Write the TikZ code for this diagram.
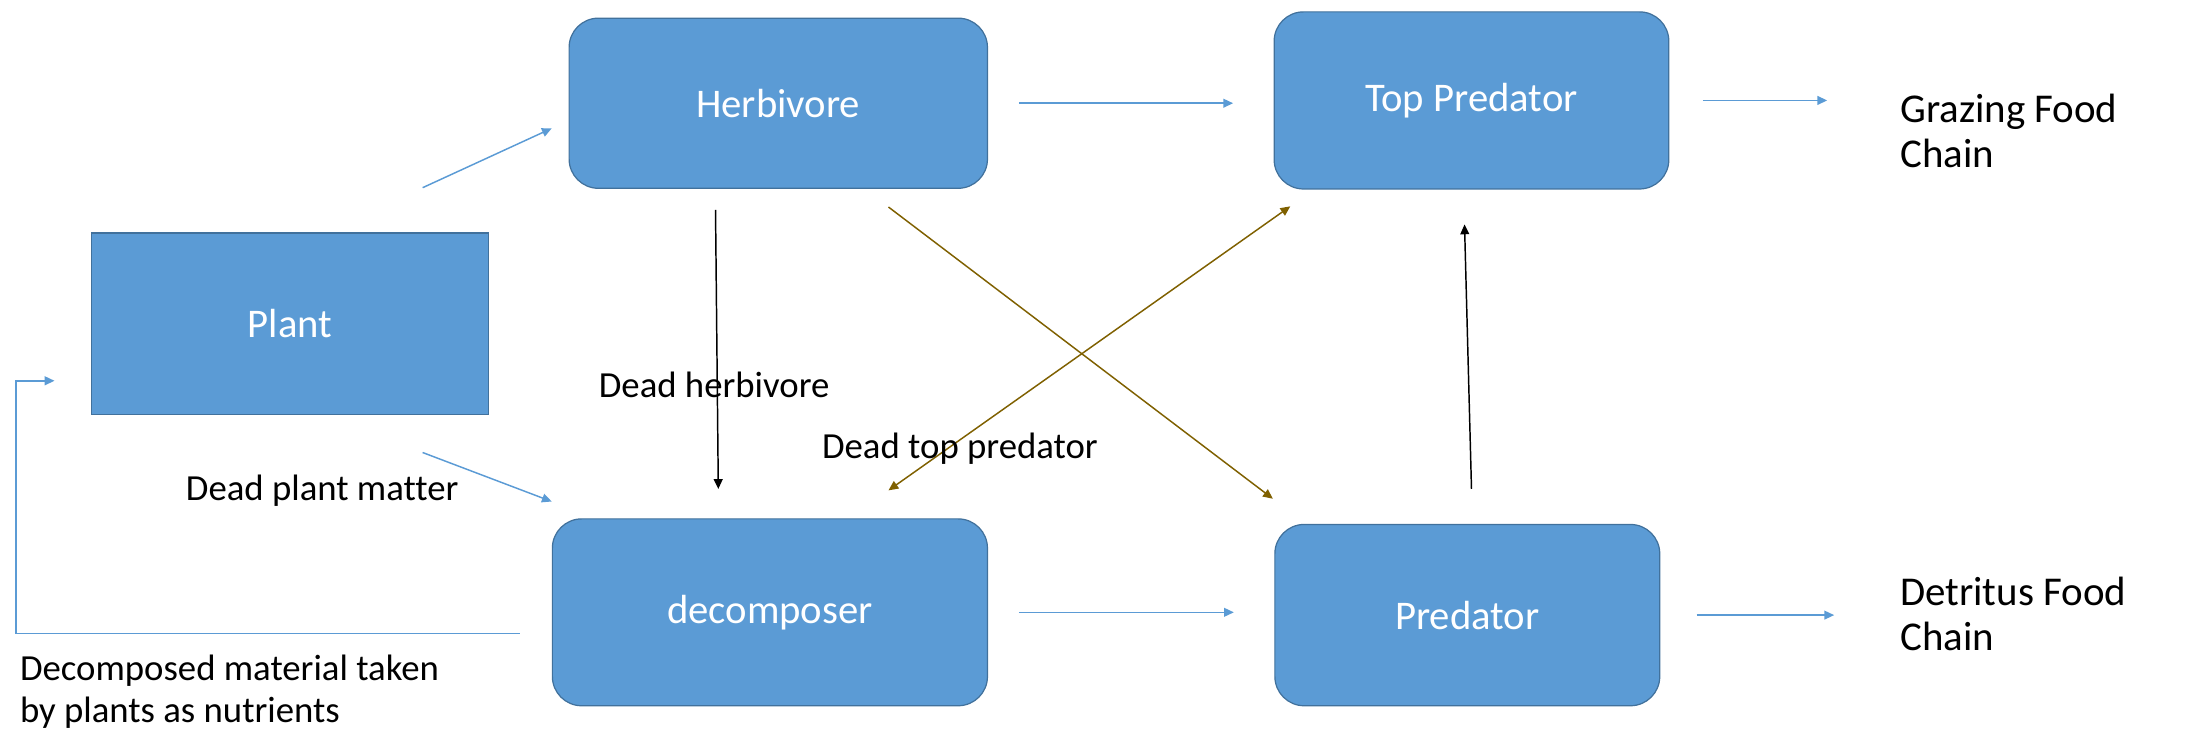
\documentclass[tikz,border=0pt]{standalone}
\usepackage{fontspec}
\setmainfont{Carlito}[Ligatures=CommonOff]
\usepackage{tikz}
\usepackage{xcolor}
\usetikzlibrary{positioning, arrows.meta, calc}

\definecolor{boxblue}{HTML}{5B9BD5}
\definecolor{boxedge}{HTML}{41719C}
\definecolor{deadbrown}{HTML}{7F6000}

\begin{document}
\begin{tikzpicture}[
  x=0.02cm, y=-0.02cm,
  >={Triangle[length=4pt, width=3.6pt]},
  box/.style={draw=boxedge, fill=boxblue, line width=0.5pt, rounded corners=0.42cm, text=white, font=\fontsize{16.6}{20}\selectfont, inner sep=0pt},
  plantbox/.style={box, rounded corners=0pt},
  flow/.style={->, line width=0.6pt, boxblue},
  dead/.style={->, line width=0.6pt, deadbrown},
  eaten/.style={->, line width=0.6pt, black},
  lbl/.style={font=\fontsize{15}{17}\selectfont, inner sep=0pt},
  chain/.style={font=\fontsize{16.7}{18.2}\selectfont, align=left, anchor=west, inner sep=0pt}
]
\useasboundingbox (0,0) rectangle (1568,528);

% Trophic levels
\node[plantbox, minimum width=5.7cm, minimum height=2.6cm] (plant) at (208,232) {Plant};
\node[box, minimum width=6cm, minimum height=2.44cm] (herb) at (558,74) {Herbivore};
\node[box, minimum width=5.66cm, minimum height=2.54cm] (top) at (1055,72) {Top Predator};
\node[box, minimum width=6.24cm, minimum height=2.68cm] (decomp) at (552,439) {decomposer};
\node[box, minimum width=5.52cm, minimum height=2.6cm] (pred) at (1052,441) {Predator};

% Food chain names
\node[chain] (graze) at (1362,94) {Grazing Food\\Chain};
\node[chain] (detr) at (1362,440) {Detritus Food\\Chain};

% Grazing side
\draw[flow] ([shift={(95,-32)}]plant.north) -- ([shift={(-12,18)}]herb.west);
\draw[flow, shorten <=0.44cm, shorten >=0.58cm] (herb.east) -- (herb.east -| top.west);
\draw[flow, shorten <=0.48cm, shorten >=1.04cm] (top.east) -- (top.east -| graze.west);

% Detritus side
\draw[flow] ([shift={(95,27)}]plant.south) -- ([shift={(0,-12)}]decomp.north west);
\draw[flow, shorten <=0.44cm, shorten >=0.58cm] (decomp.east) -- (decomp.east -| pred.west);
\draw[flow, shorten <=0.52cm, shorten >=0.94cm] (pred.east) -- (pred.east -| detr.west);

% Nutrients back to the plant
\draw[flow] ([shift={(-23,15)}]decomp.west) -- ++(-361,0) |- ([shift={(-26,41)}]plant.west);

% Dead matter and feeding links
\draw[eaten] ([shift={(-45,15)}]herb.south) -- ([shift={(-37,-21)}]decomp.north);
\draw[eaten] ([shift={(3,-25)}]pred.north) -- ([shift={(-5,25)}]top.south);
\draw[dead] ([shift={(79,13)}]herb.south) -- ([shift={(-1,-18)}]pred.north west);
\draw[dead, <->] ([shift={(85,-20)}]decomp.north) -- ([shift={(12,12)}]top.south west);

% Labels
\node[lbl] (lplant) at (231,352) {Dead plant matter};
\node[lbl, anchor=west] (lherb) at (429,276) {Dead herbivore};
\node[lbl, anchor=west] (ltop) at (589,322) {Dead top predator};
\node[lbl, align=left, anchor=west] (lnutr) at (14,496) {Decomposed material taken\\by plants as nutrients};

\end{tikzpicture}
\end{document}
